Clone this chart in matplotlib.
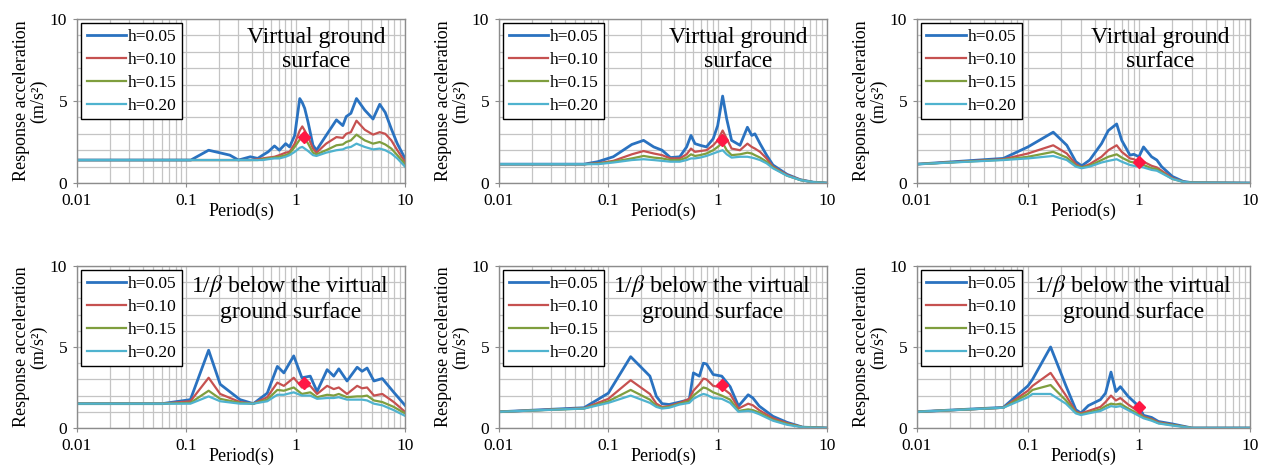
#!/usr/bin/env python3

import matplotlib
matplotlib.use('Agg')
import matplotlib.pyplot as plt
from matplotlib.ticker import MultipleLocator, LogLocator, FixedLocator, FuncFormatter, NullFormatter

plt.rcParams['font.family'] = ['Liberation Serif', 'DejaVu Serif']
plt.rcParams['mathtext.fontset'] = 'stix'

damping = ['h=0.05', 'h=0.10', 'h=0.15', 'h=0.20']
title_top = 'Virtual ground\nsurface'
title_bottom = '1/$\\beta$ below the virtual\nground surface'

# top left
period_1 = [0.01, 0.11, 0.16, 0.25, 0.3, 0.385, 0.45, 0.5, 0.56, 0.64,
            0.71, 0.81, 0.88, 0.98, 1.09, 1.15, 1.21, 1.3, 1.44, 1.55,
            1.9, 2.36, 2.7, 2.9, 3.2, 3.6, 4.28, 5.1, 5.87, 6.6,
            7.5, 8.5, 10]
h05_1 = [1.4, 1.4, 2.0, 1.7, 1.4, 1.6, 1.5, 1.7, 1.9, 2.26,
         2.0, 2.4, 2.2, 2.9, 5.15, 4.9, 4.55, 3.7, 2.3, 2.0,
         2.9, 3.85, 3.5, 4.05, 4.25, 5.15, 4.45, 3.9, 4.8, 4.3,
         3.3, 2.4, 1.5]
h10_1 = [1.4, 1.4, 1.4, 1.4, 1.4, 1.4, 1.45, 1.5, 1.55, 1.6,
         1.7, 1.85, 1.9, 2.4, 3.2, 3.45, 3.2, 2.8, 2.1, 1.85,
         2.4, 2.8, 2.75, 3.0, 3.1, 3.8, 3.25, 2.95, 3.1, 3.0,
         2.6, 2.0, 1.3]
h15_1 = [1.4, 1.4, 1.4, 1.4, 1.4, 1.4, 1.4, 1.45, 1.5, 1.55,
         1.6, 1.7, 1.8, 2.2, 2.65, 2.85, 2.7, 2.4, 1.85, 1.75,
         2.0, 2.3, 2.35, 2.5, 2.6, 2.95, 2.6, 2.4, 2.5, 2.35,
         2.1, 1.7, 1.15]
h20_1 = [1.4, 1.4, 1.4, 1.4, 1.4, 1.4, 1.4, 1.4, 1.45, 1.5,
         1.5, 1.6, 1.7, 1.9, 2.15, 2.2, 2.1, 1.95, 1.7, 1.65,
         1.85, 2.0, 2.05, 2.15, 2.2, 2.4, 2.2, 2.05, 2.1, 2.0,
         1.8, 1.5, 1.0]
mark_1 = (1.2, 2.8)

# top middle
period_2 = [0.01, 0.06, 0.08, 0.111, 0.164, 0.21, 0.26, 0.31, 0.37, 0.45,
            0.52, 0.57, 0.62, 0.69, 0.79, 0.91, 1.0, 1.11, 1.21, 1.34,
            1.6, 1.87, 2.05, 2.19, 2.44, 2.8, 3.2, 4.3, 5.7, 7.5, 10]
h05_2 = [1.15, 1.15, 1.3, 1.6, 2.35, 2.6, 2.2, 2.0, 1.55, 1.6,
         2.2, 2.9, 2.4, 2.3, 2.2, 2.7, 3.5, 5.3, 3.9, 2.6,
         2.3, 3.4, 2.9, 3.0, 2.4, 1.7, 1.1, 0.53, 0.2, 0.05, 0.0]
h10_2 = [1.15, 1.15, 1.2, 1.35, 1.75, 1.95, 1.8, 1.7, 1.5, 1.5,
         1.75, 2.1, 1.9, 1.95, 2.0, 2.3, 2.6, 3.2, 2.7, 2.1,
         2.0, 2.4, 2.2, 2.1, 1.9, 1.5, 1.0, 0.5, 0.2, 0.05, 0.0]
h15_2 = [1.15, 1.15, 1.18, 1.3, 1.5, 1.65, 1.55, 1.5, 1.4, 1.4,
         1.55, 1.75, 1.65, 1.7, 1.8, 2.0, 2.2, 2.45, 2.0, 1.7,
         1.75, 1.85, 1.8, 1.7, 1.55, 1.3, 0.95, 0.45, 0.18, 0.05, 0.0]
h20_2 = [1.15, 1.15, 1.15, 1.25, 1.4, 1.45, 1.4, 1.35, 1.3, 1.3,
         1.4, 1.5, 1.5, 1.55, 1.65, 1.8, 1.9, 2.0, 1.75, 1.55,
         1.6, 1.6, 1.55, 1.5, 1.4, 1.2, 0.9, 0.45, 0.18, 0.05, 0.0]
mark_2 = (1.1, 2.65)

# top right
period_3 = [0.01, 0.06, 0.1, 0.169, 0.224, 0.27, 0.305, 0.36, 0.46, 0.53,
            0.63, 0.7, 0.83, 0.9, 1.0, 1.1, 1.3, 1.45, 1.6, 2.0,
            2.5, 3.0, 10]
h05_3 = [1.15, 1.5, 2.2, 3.1, 2.3, 1.3, 1.05, 1.4, 2.4, 3.2,
         3.6, 2.6, 1.7, 1.75, 1.6, 2.2, 1.6, 1.4, 1.0, 0.4,
         0.1, 0.02, 0.0]
h10_3 = [1.15, 1.45, 1.8, 2.3, 1.8, 1.15, 0.95, 1.15, 1.6, 2.0,
         2.3, 1.9, 1.5, 1.45, 1.3, 1.3, 1.05, 0.95, 0.75, 0.3,
         0.08, 0.02, 0.0]
h15_3 = [1.15, 1.42, 1.6, 1.9, 1.55, 1.05, 0.95, 1.05, 1.4, 1.6,
         1.75, 1.55, 1.3, 1.25, 1.15, 1.1, 0.9, 0.85, 0.65, 0.25,
         0.07, 0.02, 0.0]
h20_3 = [1.15, 1.4, 1.5, 1.65, 1.4, 1.0, 0.9, 1.0, 1.25, 1.35,
         1.45, 1.3, 1.1, 1.05, 1.0, 0.95, 0.8, 0.75, 0.6, 0.25,
         0.07, 0.02, 0.0]
mark_3 = (1.0, 1.3)

# bottom left
period_4 = [0.01, 0.06, 0.109, 0.16, 0.204, 0.31, 0.41, 0.55, 0.68, 0.78,
            0.96, 1.14, 1.36, 1.57, 1.94, 2.23, 2.48, 2.95, 3.65, 4.05,
            4.5, 5.2, 6.2, 7.9, 10]
h05_4 = [1.5, 1.5, 1.75, 4.8, 2.7, 1.75, 1.5, 2.15, 3.8, 3.4,
         4.45, 3.1, 3.2, 2.25, 3.6, 3.2, 3.65, 2.9, 3.75, 3.5,
         3.7, 2.9, 3.05, 2.2, 1.4]
h10_4 = [1.5, 1.5, 1.65, 3.1, 2.1, 1.6, 1.5, 1.9, 2.8, 2.6,
         3.1, 2.5, 2.6, 2.1, 2.6, 2.4, 2.5, 2.1, 2.6, 2.45,
         2.5, 2.0, 2.1, 1.6, 1.0]
h15_4 = [1.5, 1.5, 1.55, 2.3, 1.8, 1.55, 1.5, 1.75, 2.35, 2.3,
         2.5, 2.1, 2.2, 1.9, 2.05, 2.0, 2.1, 1.9, 1.95, 1.95,
         2.0, 1.7, 1.6, 1.3, 0.9]
h20_4 = [1.5, 1.5, 1.5, 1.95, 1.65, 1.5, 1.5, 1.65, 2.05, 2.05,
         2.2, 2.0, 2.0, 1.8, 1.85, 1.85, 1.9, 1.75, 1.75, 1.75,
         1.7, 1.5, 1.4, 1.1, 0.75]
mark_4 = (1.2, 2.8)

# bottom middle
period_5 = [0.01, 0.06, 0.1, 0.16, 0.24, 0.275, 0.31, 0.36, 0.45, 0.55,
            0.6, 0.68, 0.74, 0.79, 0.91, 1.09, 1.3, 1.55, 1.9, 2.1,
            2.4, 3.2, 4.3, 6.0, 10]
h05_5 = [1.0, 1.25, 2.15, 4.4, 3.2, 1.95, 1.5, 1.45, 1.6, 1.75,
         3.4, 3.2, 4.0, 3.95, 3.3, 3.2, 2.55, 1.35, 2.05, 1.85,
         1.35, 0.72, 0.35, 0.05, 0.0]
h10_5 = [1.0, 1.22, 1.8, 2.95, 2.1, 1.5, 1.3, 1.35, 1.55, 1.8,
         2.3, 2.7, 3.05, 3.0, 2.6, 2.5, 2.1, 1.2, 1.5, 1.4,
         1.1, 0.6, 0.3, 0.05, 0.0]
h15_5 = [1.0, 1.2, 1.65, 2.35, 1.75, 1.35, 1.25, 1.3, 1.5, 1.65,
         2.0, 2.3, 2.5, 2.45, 2.2, 2.0, 1.75, 1.05, 1.15, 1.1,
         0.95, 0.5, 0.25, 0.05, 0.0]
h20_5 = [1.0, 1.2, 1.55, 2.0, 1.55, 1.3, 1.2, 1.25, 1.45, 1.55,
         1.8, 2.0, 2.1, 2.05, 1.85, 1.8, 1.55, 1.0, 1.05, 1.0,
         0.85, 0.45, 0.2, 0.04, 0.0]
mark_5 = (1.1, 2.65)

# bottom right
period_6 = [0.01, 0.06, 0.1, 0.11, 0.16, 0.22, 0.27, 0.3, 0.35, 0.45,
            0.5, 0.56, 0.62, 0.68, 0.8, 1.0, 1.1, 1.3, 1.5, 2.0,
            3.0, 10]
h05_6 = [1.0, 1.27, 2.6, 3.0, 5.0, 2.6, 1.13, 0.92, 1.38, 1.75,
         2.15, 3.45, 2.25, 2.55, 1.95, 1.33, 0.78, 0.65, 0.4, 0.25,
         0.0, 0.0]
h10_6 = [1.0, 1.25, 2.3, 2.6, 3.4, 2.0, 1.0, 0.9, 1.05, 1.3,
         1.6, 2.0, 1.7, 1.85, 1.45, 1.0, 0.7, 0.55, 0.35, 0.2,
         0.0, 0.0]
h15_6 = [1.0, 1.25, 2.1, 2.35, 2.65, 1.7, 0.95, 0.85, 0.95, 1.15,
         1.35, 1.5, 1.45, 1.5, 1.2, 0.85, 0.65, 0.5, 0.3, 0.18,
         0.0, 0.0]
h20_6 = [1.0, 1.25, 1.9, 2.1, 2.1, 1.5, 0.9, 0.8, 0.9, 1.05,
         1.2, 1.35, 1.3, 1.35, 1.1, 0.75, 0.6, 0.45, 0.28, 0.15,
         0.0, 0.0]
mark_6 = (1.0, 1.3)

panels = [
    (period_1, [h05_1, h10_1, h15_1, h20_1], mark_1, title_top),
    (period_2, [h05_2, h10_2, h15_2, h20_2], mark_2, title_top),
    (period_3, [h05_3, h10_3, h15_3, h20_3], mark_3, title_top),
    (period_4, [h05_4, h10_4, h15_4, h20_4], mark_4, title_bottom),
    (period_5, [h05_5, h10_5, h15_5, h20_5], mark_5, title_bottom),
    (period_6, [h05_6, h10_6, h15_6, h20_6], mark_6, title_bottom),
]

rects = [
    [0.0606, 0.6106, 0.2583, 0.349],
    [0.3929, 0.6106, 0.2583, 0.349],
    [0.7220, 0.6106, 0.2622, 0.349],
    [0.0606, 0.0894, 0.2583, 0.3447],
    [0.3929, 0.0894, 0.2583, 0.3447],
    [0.7220, 0.0894, 0.2622, 0.3447],
]

colors = ['#2a72c0', '#c65150', '#7f9e3e', '#4fb3cf']
widths = [2.0, 1.6, 1.6, 1.6]
grid_color = '#c4c4c4'
frame_color = '#8c8c8c'

fig = plt.figure(figsize=(12.7, 4.7), dpi=100)

for i, (period, curves, mark, title) in enumerate(panels):
    ax = fig.add_axes(rects[i])
    for label, values, color, lw in zip(damping, curves, colors, widths):
        ax.plot(period, values, color=color, linewidth=lw, label=label)
    ax.plot([mark[0]], [mark[1]], marker='D', markersize=6,
            color='#ff1744', linestyle='none', zorder=5)

    ax.set_xscale('log')
    ax.set_xlim(0.01, 10)
    ax.set_ylim(0, 10)
    ax.xaxis.set_major_locator(FixedLocator([0.01, 0.1, 1, 10]))
    ax.xaxis.set_major_formatter(FuncFormatter(lambda v, p: '%g' % v))
    ax.xaxis.set_minor_locator(LogLocator(base=10, subs=range(2, 10)))
    ax.xaxis.set_minor_formatter(NullFormatter())
    ax.yaxis.set_major_locator(MultipleLocator(5))
    ax.yaxis.set_minor_locator(MultipleLocator(1))

    ax.grid(True, which='both', color=grid_color, linewidth=0.9)
    ax.set_axisbelow(True)
    for s in ax.spines.values():
        s.set_color(frame_color)
        s.set_linewidth(1.0)
    ax.tick_params(which='major', length=3, color=frame_color,
                   labelsize=12.5, pad=4)
    ax.tick_params(which='minor', length=0)

    ax.set_xlabel('Period(s)', fontsize=13, labelpad=-4)
    ax.set_ylabel('Response acceleration\n(m/s²)', fontsize=13,
                  labelpad=2, linespacing=1.0)

    leg = ax.legend(loc='upper left', fontsize=12.5, frameon=True,
                    fancybox=False, framealpha=1, edgecolor='black',
                    handlelength=2.3, handletextpad=0.1, labelspacing=0.4,
                    borderpad=0.3, borderaxespad=0.25)
    leg.get_frame().set_linewidth(1.0)

    if i < 3:
        ax.text(0.73, 0.95, title, transform=ax.transAxes, ha='center',
                va='top', fontsize=17, linespacing=1.2)
    else:
        ax.text(0.65, 0.955, title, transform=ax.transAxes, ha='center',
                va='top', fontsize=17, linespacing=1.2)

fig.savefig('out.png', dpi=100)
